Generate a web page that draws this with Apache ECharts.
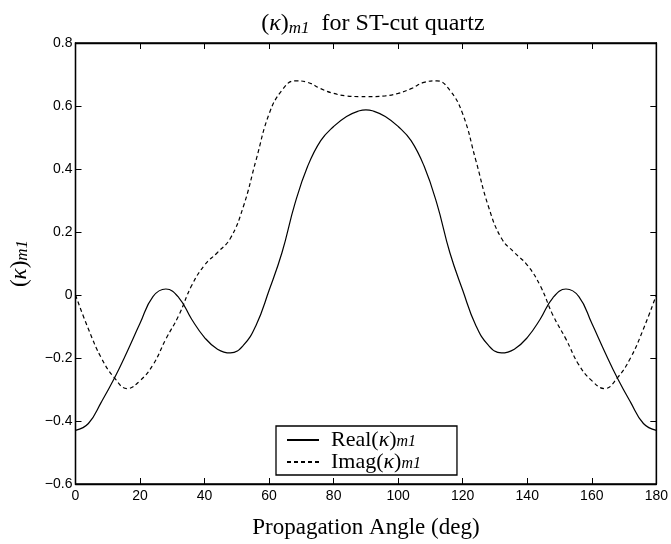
<!DOCTYPE html>
<html>
<head>
<meta charset="utf-8">
<script src="https://cdn.jsdelivr.net/npm/echarts@6/dist/echarts.min.js"></script>
<style>
  html, body { margin: 0; padding: 0; background: #fff; }
  #container { width: 671px; height: 544px; }
</style>
</head>
<body>
<div id="container"></div>
<script>
// propagation angle (deg)
var angles = [0, 4, 8, 12, 16, 20, 24, 28, 32, 36, 40, 44, 48, 52, 56, 60, 64, 68, 72, 76, 80, 84, 88,
  90, 92, 96, 100, 104, 108, 112, 116, 120, 124, 128, 132, 136, 140, 144, 148, 152, 156, 160, 164, 168, 172, 176, 180];
// Real(kappa)_m1
var realVals = [-0.430, -0.408, -0.340, -0.265, -0.180, -0.090, -0.005, 0.019, -0.008, -0.077, -0.135, -0.172, -0.184,
  -0.160, -0.095, 0.015, 0.135, 0.290, 0.410, 0.490, 0.535, 0.567, 0.585,
  0.588, 0.585, 0.567, 0.535, 0.490, 0.410, 0.290, 0.135, 0.015, -0.095, -0.160, -0.184, -0.172, -0.135, -0.077,
  -0.008, 0.019, -0.005, -0.090, -0.180, -0.265, -0.340, -0.408, -0.430];
// Imag(kappa)_m1
var imagVals = [0.000, -0.108, -0.200, -0.262, -0.297, -0.272, -0.222, -0.140, -0.065, 0.030, 0.095, 0.135, 0.180,
  0.280, 0.430, 0.575, 0.650, 0.680, 0.675, 0.655, 0.640, 0.632, 0.630,
  0.630, 0.630, 0.632, 0.640, 0.655, 0.675, 0.680, 0.650, 0.575, 0.430, 0.280, 0.180, 0.135, 0.095, 0.030,
  -0.065, -0.140, -0.222, -0.272, -0.297, -0.262, -0.200, -0.108, 0.000];
var seriesNames = ['Real', 'Imag'];

var serif = '"Liberation Serif", "DejaVu Serif", serif';
var sans = '"Liberation Sans", Arial, sans-serif';

function pairs(ys) {
  return angles.map(function (a, i) { return [a, ys[i]]; });
}

// rich styles for (kappa)_m1, with the subscript dropped below the baseline
function kappaRich(size, lh) {
  return {
    p: { fontFamily: serif, fontSize: size, color: '#000', lineHeight: lh },
    k: { fontFamily: serif, fontSize: size, fontStyle: 'italic', color: '#000', lineHeight: lh },
    s: { fontFamily: serif, fontSize: Math.round(size * 0.72), fontStyle: 'italic', color: '#000',
         lineHeight: Math.round(lh * 0.4), verticalAlign: 'bottom' }
  };
}

var dom = document.getElementById('container');
var myChart = echarts.init(dom, null, { renderer: 'canvas' });

var tickStyle = { show: true, inside: true, length: 6, lineStyle: { color: '#000', width: 1 } };
var lineAx = { show: true, onZero: false, lineStyle: { color: '#000', width: 1.3 } };

var option = {
  animation: false,
  backgroundColor: '#fff',
  title: {
    text: '{p|(}{k|κ}{p|)}{s|m1}{p|  for ST-cut quartz}',
    left: 368,
    textAlign: 'center',
    top: 6,
    textStyle: { fontWeight: 'normal', rich: kappaRich(24, 26) }
  },
  legend: {
    orient: 'vertical',
    left: 276,
    top: 426,
    padding: [3, 36, 2, 10],
    itemGap: 0,
    itemWidth: 32,
    itemHeight: 10,
    borderColor: '#000',
    borderWidth: 1.3,
    borderRadius: 0,
    backgroundColor: '#fff',
    itemStyle: { opacity: 0 },
    data: seriesNames,
    formatter: function (name) {
      return '{p|' + name + '(}{k|κ}{p|)}{s|m1}';
    },
    textStyle: { padding: [0, 0, 0, 7], rich: kappaRich(22, 20) }
  },
  grid: { left: 74, right: 11, top: 43, bottom: 54, show: true, borderColor: '#000', borderWidth: 1.3 },
  xAxis: [{
    type: 'value',
    min: 0,
    max: 180,
    interval: 20,
    name: 'Propagation Angle (deg)',
    nameLocation: 'middle',
    nameGap: 32,
    nameTextStyle: { fontFamily: serif, fontSize: 23, color: '#000' },
    axisLine: lineAx,
    axisTick: tickStyle,
    splitLine: { show: false },
    axisLabel: { color: '#000', fontFamily: sans, fontSize: 14, margin: 5 }
  }, {
    type: 'value',
    position: 'top',
    min: 0,
    max: 180,
    interval: 20,
    axisLine: lineAx,
    axisTick: tickStyle,
    splitLine: { show: false },
    axisLabel: { show: false }
  }],
  yAxis: [{
    type: 'value',
    min: -0.6,
    max: 0.8,
    interval: 0.2,
    name: '{p|(}{k|κ}{p|)}{s|m1}',
    nameLocation: 'middle',
    nameRotate: 90,
    nameGap: 44,
    nameTextStyle: { rich: kappaRich(23, 24) },
    axisLine: lineAx,
    axisTick: tickStyle,
    splitLine: { show: false },
    axisLabel: {
      color: '#000', fontFamily: sans, fontSize: 14, margin: 3,
      formatter: function (v) {
        var s = Math.abs(v) < 1e-9 ? '0' : String(Math.round(v * 10) / 10);
        return s.replace('-', '\u2212');
      }
    }
  }, {
    type: 'value',
    position: 'right',
    min: -0.6,
    max: 0.8,
    interval: 0.2,
    axisLine: lineAx,
    axisTick: tickStyle,
    splitLine: { show: false },
    axisLabel: { show: false }
  }],
  series: [{
    name: seriesNames[0],
    type: 'line',
    data: pairs(realVals),
    smooth: 0.45,
    symbol: 'none',
    color: '#000',
    lineStyle: { color: '#000', width: 1.2, type: 'solid' }
  }, {
    name: seriesNames[1],
    type: 'line',
    data: pairs(imagVals),
    smooth: 0.45,
    symbol: 'none',
    color: '#000',
    lineStyle: { color: '#000', width: 1.2, type: [4, 3] }
  }]
};

if (option && typeof option === 'object') {
  myChart.setOption(option);
}
window.addEventListener('resize', myChart.resize);
</script>
</body>
</html>
